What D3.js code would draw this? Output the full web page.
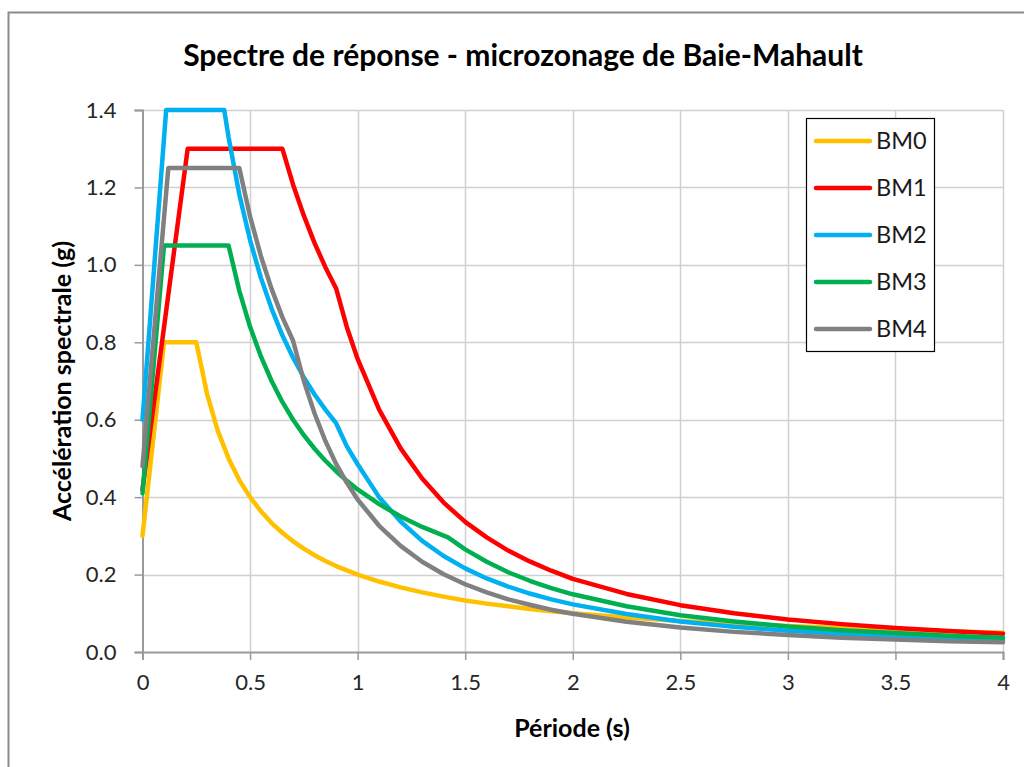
<!DOCTYPE html>
<html>
<head>
<meta charset="utf-8">
<script src="https://cdn.jsdelivr.net/npm/d3@7"></script>
<style>
	body { margin: 0; background: #fff; }
	text { font-family: Lato, "Open Sans", sans-serif; }
</style>
</head>
<body>
<div id="chart"></div>
<script>

// series (period in s, acceleration in g)
var series_names = ['BM0', 'BM1', 'BM2', 'BM3', 'BM4'];
var series_colors = ['#FFC000', '#FF0000', '#00B0F0', '#00B050', '#808080'];

var period_bm0 = [0, 0.1, 0.25, 0.3, 0.35, 0.4, 0.45, 0.5, 0.55, 0.6, 0.65, 0.7, 0.75, 0.8, 0.85, 0.9, 0.95, 1.0,
	1.1, 1.2, 1.3, 1.4, 1.5, 1.6, 1.7, 1.8, 1.9, 2.0, 2.25, 2.5, 2.75, 3.0, 3.25, 3.5, 3.75, 4.0];
var accel_bm0 = [0.30, 0.80, 0.80, 0.667, 0.571, 0.50, 0.444, 0.40, 0.364, 0.333, 0.308, 0.286, 0.267, 0.25, 0.235, 0.222, 0.211, 0.20,
	0.182, 0.167, 0.154, 0.143, 0.133, 0.125, 0.118, 0.111, 0.105, 0.10, 0.089, 0.08, 0.073, 0.067, 0.062, 0.057, 0.053, 0.05];

var period_bm1 = [0, 0.21, 0.65, 0.7, 0.75, 0.8, 0.85, 0.9, 0.95, 1.0,
	1.1, 1.2, 1.3, 1.4, 1.5, 1.6, 1.7, 1.8, 1.9, 2.0, 2.25, 2.5, 2.75, 3.0, 3.25, 3.5, 3.75, 4.0];
var accel_bm1 = [0.42, 1.30, 1.30, 1.207, 1.127, 1.056, 0.994, 0.939, 0.839, 0.757,
	0.626, 0.526, 0.448, 0.386, 0.336, 0.296, 0.262, 0.234, 0.210, 0.189, 0.150, 0.121, 0.100, 0.084, 0.072, 0.062, 0.054, 0.047];

var period_bm2 = [0, 0.11, 0.38, 0.4, 0.45, 0.5, 0.55, 0.6, 0.65, 0.7, 0.75, 0.8, 0.85, 0.9, 0.95, 1.0,
	1.1, 1.2, 1.3, 1.4, 1.5, 1.6, 1.7, 1.8, 1.9, 2.0, 2.25, 2.5, 2.75, 3.0, 3.25, 3.5, 3.75, 4.0];
var accel_bm2 = [0.60, 1.40, 1.40, 1.33, 1.182, 1.064, 0.967, 0.887, 0.818, 0.76, 0.709, 0.665, 0.626, 0.591, 0.531, 0.485,
	0.40, 0.337, 0.287, 0.248, 0.216, 0.19, 0.169, 0.151, 0.136, 0.123, 0.098, 0.079, 0.065, 0.055, 0.047, 0.04, 0.035, 0.031];

var period_bm3 = [0, 0.1, 0.4, 0.45, 0.5, 0.55, 0.6, 0.65, 0.7, 0.75, 0.8, 0.85, 0.9, 0.95, 1.0,
	1.1, 1.2, 1.3, 1.42, 1.5, 1.6, 1.7, 1.8, 1.9, 2.0, 2.25, 2.5, 2.75, 3.0, 3.25, 3.5, 3.75, 4.0];
var accel_bm3 = [0.41, 1.05, 1.05, 0.933, 0.84, 0.764, 0.70, 0.646, 0.60, 0.56, 0.525, 0.494, 0.467, 0.442, 0.42,
	0.382, 0.35, 0.323, 0.296, 0.265, 0.233, 0.206, 0.184, 0.165, 0.149, 0.118, 0.095, 0.079, 0.066, 0.056, 0.049, 0.042, 0.037];

var period_bm4 = [0, 0.12, 0.45, 0.5, 0.55, 0.6, 0.65, 0.7, 0.75, 0.8, 0.85, 0.9, 0.95, 1.0,
	1.1, 1.2, 1.3, 1.4, 1.5, 1.6, 1.7, 1.8, 1.9, 2.0, 2.25, 2.5, 2.75, 3.0, 3.25, 3.5, 3.75, 4.0];
var accel_bm4 = [0.48, 1.25, 1.25, 1.125, 1.023, 0.938, 0.865, 0.804, 0.70, 0.616, 0.545, 0.486, 0.437, 0.394,
	0.326, 0.274, 0.233, 0.201, 0.175, 0.154, 0.136, 0.122, 0.109, 0.099, 0.078, 0.063, 0.052, 0.044, 0.037, 0.032, 0.028, 0.025];

var x_ticks = [0, 0.5, 1, 1.5, 2, 2.5, 3, 3.5, 4];
var y_ticks = [0, 0.2, 0.4, 0.6, 0.8, 1.0, 1.2, 1.4];

var periods = [period_bm0, period_bm1, period_bm2, period_bm3, period_bm4];
var accels = [accel_bm0, accel_bm1, accel_bm2, accel_bm3, accel_bm4];

var series = series_names.map((name, i) => {
	return {
		'name': name,
		'color': series_colors[i],
		'values': periods[i].map((t, j) => { return {'t': t, 'a': accels[i][j]}; })
	};
});


// Chart
var width = 1024,
	height = 767;
var plot = {left: 142.5, right: 1003, top: 110, bottom: 652};

var x_scale = d3.scaleLinear().domain([0, 4]).range([plot.left, plot.right]);
var y_scale = d3.scaleLinear().domain([0, 1.4]).range([plot.bottom, plot.top]);

var svg = d3.select('#chart').append('svg')
	.attr('width', width)
	.attr('height', height);

// chart frame
svg.append('rect')
	.attr('x', 8.5)
	.attr('y', 12.5)
	.attr('width', 1100)
	.attr('height', 900)
	.attr('fill', '#fff')
	.attr('stroke', '#8c8c8c')
	.attr('stroke-width', 2);

svg.append('text')
	.attr('x', 523)
	.attr('y', 66)
	.attr('text-anchor', 'middle')
	.attr('font-size', 30)
	.attr('font-weight', 'bold')
	.attr('fill', '#000')
	.text('Spectre de réponse - microzonage de Baie-Mahault');

// grid
svg.append('g')
	.selectAll('line.h')
	.data(y_ticks.slice(1))
	.enter().append('line')
	  .attr('x1', plot.left)
	  .attr('x2', plot.right)
	  .attr('y1', (d) => { return Math.round(y_scale(d)) + 0.5; })
	  .attr('y2', (d) => { return Math.round(y_scale(d)) + 0.5; })
	  .attr('stroke', '#d0d0d0')
	  .attr('stroke-width', 1.5);

svg.append('g')
	.selectAll('line.v')
	.data(x_ticks.slice(1))
	.enter().append('line')
	  .attr('x1', (d) => { return Math.round(x_scale(d)) + 0.5; })
	  .attr('x2', (d) => { return Math.round(x_scale(d)) + 0.5; })
	  .attr('y1', plot.top)
	  .attr('y2', plot.bottom)
	  .attr('stroke', '#d0d0d0')
	  .attr('stroke-width', 1.5);

// axes
var x_axis = svg.append('g')
	.attr('transform', 'translate(0,' + plot.bottom + ')')
	.call(d3.axisBottom(x_scale).tickValues(x_ticks).tickSize(8).tickPadding(14).tickFormat(d3.format('')));

var y_axis = svg.append('g')
	.attr('transform', 'translate(' + plot.left + ',0)')
	.call(d3.axisLeft(y_scale).tickValues(y_ticks).tickSize(8).tickPadding(18).tickFormat(d3.format('.1f')));

[x_axis, y_axis].forEach((ax) => {
	ax.select('.domain').attr('stroke', '#9a9a9a').attr('stroke-width', 2);
	ax.selectAll('.tick line').attr('stroke', '#9a9a9a').attr('stroke-width', 1.5);
	ax.selectAll('.tick text')
		.attr('font-family', 'Lato, sans-serif')
		.attr('font-size', 22)
		.attr('fill', '#262626');
});

svg.append('text')
	.attr('x', 572)
	.attr('y', 737)
	.attr('text-anchor', 'middle')
	.attr('font-size', 25)
	.attr('font-weight', 'bold')
	.text('Période (s)');

svg.append('text')
	.attr('transform', 'translate(71,381) rotate(-90)')
	.attr('text-anchor', 'middle')
	.attr('font-size', 25)
	.attr('font-weight', 'bold')
	.text('Accélération spectrale (g)');

// lines
var line = d3.line()
	.x((d) => { return x_scale(d.t); })
	.y((d) => { return y_scale(d.a); });

svg.append('g')
	.attr('fill', 'none')
	.attr('stroke-width', 4.5)
	.attr('stroke-linejoin', 'round')
	.attr('stroke-linecap', 'round')
  .selectAll('path')
	.data(series)
	.enter().append('path')
	  .attr('d', (d) => { return line(d.values); })
	  .attr('stroke', (d) => { return d.color; });

// legend
var legend = svg.append('g')
	.attr('transform', 'translate(806,118)');

legend.append('rect')
	.attr('x', 0.5)
	.attr('y', 0.5)
	.attr('width', 128)
	.attr('height', 233)
	.attr('fill', '#fff')
	.attr('stroke', '#000')
	.attr('stroke-width', 1.2);

var item = legend.selectAll('g.item')
	.data(series)
	.enter().append('g')
	  .attr('transform', (d, i) => { return 'translate(0,' + (23 + i * 47) + ')'; });

item.append('line')
	.attr('x1', 10)
	.attr('x2', 64)
	.attr('stroke', (d) => { return d.color; })
	.attr('stroke-width', 4.5)
	.attr('stroke-linecap', 'round');

item.append('text')
	.attr('x', 70)
	.attr('dy', '0.35em')
	.attr('font-size', 23.5)
	.attr('fill', '#1a1a1a')
	.text((d) => { return d.name; });

</script>
</body>
</html>
